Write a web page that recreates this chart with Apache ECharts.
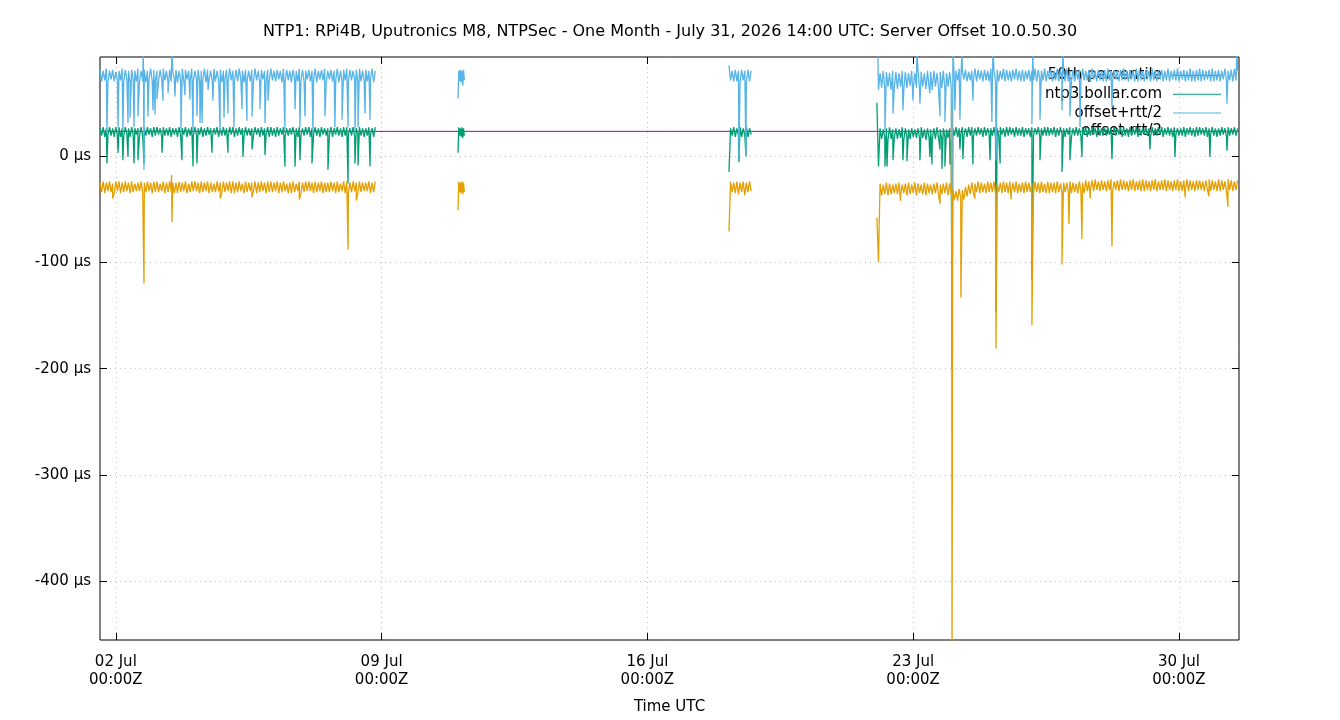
<!DOCTYPE html>
<html lang="en">
<head>
<meta charset="UTF-8">
<title>Server Offset 10.0.50.30</title>
<style>
    html, body { margin: 0; padding: 0; background: #fff; }
    #main { width: 1340px; height: 720px; }
</style>
</head>
<body>
<div id="main"></div>
<script src="https://cdn.jsdelivr.net/npm/echarts@6/dist/echarts.min.js"></script>
<script>
// x values are hours since 2026-07-01 00:00Z
var xMin = 14, xMax = 734;
var tickHours = [24, 192, 360, 528, 696];
var tickLabels = ['02 Jul\n00:00Z', '09 Jul\n00:00Z', '16 Jul\n00:00Z', '23 Jul\n00:00Z', '30 Jul\n00:00Z'];
var yTicks = [-400, -300, -200, -100, 0];
var p50 = 23.1;

// data comes in 4 runs, gaps between them
var segStart = [14, 240.3, 411.6, 505.1];
var segStep = [1, 0.5, 1, 1];

// ntp3.bollar.com (offset)
var offA = [26,19,27,18,26,20,27,19,26,18,27,19,
    27,18,26,19,27,20,26,18,27,19,26,20,
    26,19,27,18,26,19,27,20,26,18,27,19,
    27,20,26,18,27,19,26,19,27,18,26,20,
    26,18,27,19,26,20,27,18,26,19,27,19,
    27,19,26,20,27,18,26,19,27,20,26,18,
    26,20,27,18,26,19,27,19,26,18,27,20,
    27,18,26,19,27,20,26,18,27,19,26,19,
    26,19,27,20,26,18,27,19,26,20,27,18,
    27,19,26,18,27,19,26,20,27,18,26,19,
    26,20,27,19,26,18,27,19,26,19,27,20,
    27,18,26,20,27,19,26,18,27,20,26,19,
    26,19,27,18,26,20,27,19,26,18,27,19,
    27,20,26,19,27,18,26,20,27,19,26,18,
    26,19,27,20,26,18,27];
var offB = [3,27,19,26,18,27,17,26,19];
var offC = [-15,26,19,27,18,26,19,27,18,26,19,27,18,26,20];
var offD = [50,-10,26,16,25,17,26,15,27,16,25,17,
    26,16,25,17,27,15,26,17,25,16,26,18,
    25,17,26,16,27,17,25,15,26,17,25,16,
    26,16,27,17,25,16,26,18,25,17,26,16,
    26,19,27,18,26,20,27,19,26,18,27,19,
    27,18,26,19,27,20,26,18,27,19,26,20,
    26,19,27,18,26,19,27,20,26,18,27,19,
    27,20,26,18,27,19,26,19,27,18,26,20,
    26,18,27,19,26,20,27,18,26,19,27,19,
    27,19,26,20,27,18,26,19,27,20,26,18,
    26,20,27,18,26,19,27,19,26,18,27,20,
    27,18,26,19,27,20,26,18,27,19,26,19,
    26,19,27,20,26,18,27,19,26,20,27,18,
    27,19,26,18,27,19,26,20,27,18,26,19,
    26,20,27,19,26,18,27,19,26,19,27,20,
    27,18,26,20,27,19,26,18,27,20,26,19,
    26,19,27,18,26,20,27,19,26,18,27,19,
    27,20,26,19,27,18,26,20,27,19,26,18,
    26,19,27,20,26,18,27,19,26,20,27,19,
    26];
var offSpikes = [[18.4,-7],[25.4,3],[28.5,-4],[31.7,-1],[35.5,-7],[38,-4],[41.8,-7],[53.2,3],
    [65.8,-4],[72.8,-10],[75.3,-7],[84.8,3],[94.9,3],[104.4,-1],[110.1,6],[118.3,1],
    [130.9,-10],[137.3,-10],[140.4,-4],[148,-7],[158.1,-13],[170.8,-26],[175.2,-7],[177.1,-9],[184.7,-10],
    [417.9,-6],[422.3,0],
    [510.2,-10],[511.5,-10],[515.3,-4],[521.6,-4],[524.1,-5],[532.3,-4],[538.6,-1],[539.9,-8],[545,6],
    [546.2,-12],[548.1,-10],[551.3,-8],[552.6,-200],[557.6,6],[559.5,-3],[565.8,-8],
    [576.6,-4],[580.4,-147],[583,-7],[603.1,-116],[608.2,-4],[622.1,-15],[627.1,-4],
    [634.7,-1],[653.7,-3],[677.7,6],[693.5,-1],[715.6,-1],[726.4,5]];

// offset+rtt/2
var hiA = [81,70,80,71,82,69,80,72,81,70,79,71,
    80,71,82,70,81,72,80,69,81,71,80,70,
    82,71,80,70,81,69,80,72,82,70,81,71,
    80,70,81,72,82,71,80,69,81,70,80,72,
    81,69,80,71,82,70,81,72,80,71,82,70,
    80,72,81,70,80,71,82,69,81,72,80,70,
    82,70,80,71,81,69,80,72,81,70,82,71,
    80,71,81,70,82,72,80,69,81,71,80,70,
    81,70,82,71,80,69,81,72,80,70,81,71,
    82,71,80,70,81,72,80,69,82,70,81,71,
    80,69,81,72,80,70,82,71,81,70,80,72,
    81,70,80,71,82,69,80,72,81,71,82,70,
    80,72,81,70,80,71,82,69,80,70,81,71,
    82,70,81,71,80,72,81,69,82,70,80,71,
    81,70,80,72,82,69,80];
var hiB = [54,80,70,81,69,80,66,81,71];
var hiC = [85,71,80,70,81,70,80,69,81,71,80,70,81,70,80];
var hiD = [95,62,78,64,80,63,79,65,78,62,80,64,
    79,63,78,65,80,62,79,64,78,66,80,63,
    78,64,80,62,79,65,78,63,80,64,79,62,
    80,65,78,63,79,64,80,62,78,65,79,64,
    81,70,80,71,82,69,80,72,81,70,79,71,
    80,71,82,70,81,72,80,70,81,71,80,70,
    82,71,80,70,81,70,80,72,82,70,81,71,
    80,70,81,72,82,71,80,70,81,70,80,72,
    81,70,80,71,82,70,81,72,80,71,82,70,
    80,72,81,70,80,71,82,70,81,72,80,70,
    82,70,80,71,81,70,80,72,81,70,82,71,
    80,71,81,70,82,72,80,70,81,71,80,70,
    81,70,82,71,80,70,81,72,80,70,81,71,
    82,71,80,70,81,72,80,70,82,70,81,71,
    80,70,81,72,80,70,82,71,81,70,80,72,
    81,70,80,71,82,70,80,72,81,71,82,70,
    80,72,81,70,80,71,82,70,80,70,81,71,
    82,70,81,71,80,72,81,70,82,70,80,71,
    81,70,80,72,82,70,80,71,81,70,82,71,
    80];
var hiSpikes = [[18.4,22],[25.4,27],[28.5,24],[31.7,31],[33,36],[35.5,27],[38,37],[41.4,100],[41.8,-13],
    [44.3,37],[47.5,43],[48.8,39],[50,53],[53.8,52],[57,59],[59.5,100],[61.4,56],[65.2,24],[67.7,57],
    [70.9,53],[72.8,24],[75.3,37],[77.2,31],[78.5,31],[82.3,62],[85.4,52],[89.9,24],[92.4,36],[94.9,40],
    [98.7,27],[103.8,44],[106.9,33],[110.1,37],[115.1,44],
    [118.3,31],[120.2,52],[130.9,24],[137.3,44],[140.4,27],[143.6,37],[148.6,22],[156.2,37],
    [162.5,27],[167,34],[170.8,27],[175.2,24],[177.1,27],[181.5,40],[184.7,34],
    [417.9,-1],[422.3,-1],
    [505.6,100],[510.2,24],[515.3,40],[521.6,43],[527.9,52],[530.4,100],[532.3,49],[538.6,59],
    [545,37],[548.1,32],[552.6,-180],[553.2,100],[554.4,43],[557.6,34],[558.9,100],[565.8,52],
    [577.8,32],[578.5,100],[580.4,-4],[603.1,30],[603.6,100],[608.2,34],[622.1,43],[622.6,100],
    [627.1,37],[633.5,27],[653.7,46],[726.4,49],[732.7,100]];

// offset-rtt/2
var loA = [-25,-34,-24,-35,-25,-33,-24,-34,-26,-35,-24,-33,
    -24,-35,-25,-34,-24,-33,-25,-35,-24,-34,-26,-33,
    -25,-33,-24,-35,-25,-34,-24,-33,-25,-35,-24,-34,
    -24,-34,-26,-33,-24,-35,-25,-34,-24,-33,-25,-35,
    -25,-35,-24,-34,-25,-33,-24,-35,-26,-34,-24,-33,
    -24,-33,-25,-35,-24,-34,-25,-33,-24,-35,-25,-34,
    -26,-34,-24,-33,-25,-35,-24,-34,-25,-33,-24,-35,
    -24,-35,-25,-34,-24,-33,-26,-35,-24,-34,-25,-33,
    -25,-33,-24,-35,-25,-34,-24,-33,-25,-35,-24,-34,
    -24,-34,-25,-33,-24,-35,-25,-34,-24,-33,-26,-35,
    -25,-35,-24,-34,-26,-33,-24,-35,-25,-34,-24,-33,
    -24,-33,-25,-35,-24,-34,-25,-33,-24,-35,-25,-34,
    -25,-34,-24,-33,-25,-35,-24,-34,-26,-33,-24,-35,
    -24,-35,-25,-34,-24,-33,-25,-35,-24,-34,-25,-33,
    -25,-33,-24,-35,-25,-34,-24];
var loB = [-51,-24,-34,-25,-35,-24,-36,-25,-34];
var loC = [-71,-24,-34,-25,-35,-24,-36,-25,-34,-24,-37,-25,-34,-24,-33];
var loD = [-58,-100,-26,-37,-27,-36,-25,-37,-26,-36,-27,-35,
    -26,-36,-25,-37,-27,-35,-26,-37,-25,-36,-27,-35,
    -25,-37,-26,-35,-27,-36,-25,-37,-26,-35,-27,-36,
    -26,-35,-25,-37,-27,-36,-26,-35,-25,-37,-26,-36,
    -31,-41,-33,-42,-31,-40,-32,-41,-29,-38,-27,-36,
    -25,-35,-26,-34,-24,-35,-25,-34,-26,-35,-24,-34,
    -25,-34,-24,-35,-26,-34,-25,-35,-24,-34,-25,-35,
    -24,-35,-25,-34,-24,-35,-26,-34,-25,-35,-24,-34,
    -25,-34,-26,-35,-24,-34,-25,-35,-24,-34,-26,-35,
    -24,-35,-25,-34,-25,-35,-24,-34,-26,-35,-25,-34,
    -25,-34,-24,-35,-25,-34,-26,-35,-24,-34,-25,-35,
    -23,-33,-24,-32,-23,-33,-22,-32,-24,-33,-23,-32,
    -24,-33,-23,-32,-22,-33,-24,-32,-23,-33,-22,-32,
    -23,-32,-24,-33,-23,-32,-22,-33,-24,-32,-23,-33,
    -22,-33,-23,-32,-24,-33,-23,-32,-22,-33,-24,-32,
    -23,-32,-22,-33,-23,-32,-24,-33,-23,-32,-22,-33,
    -24,-33,-23,-32,-22,-33,-23,-32,-24,-33,-23,-32,
    -23,-32,-24,-33,-23,-32,-22,-33,-23,-32,-24,-33,
    -22,-33,-23,-32,-24,-33,-22,-32,-23,-33,-24,-32,
    -23];
var loSpikes = [[22,-40],[41.8,-120],[59.2,-18],[59.5,-62],[90,-40],[110,-39],[140,-41],[170.8,-88],[176,-42],
    [520,-42],[545,-45],[552.3,43],[552.6,-470],[558.2,-133],[567,-40],[580.4,-181],[590,-41],
    [603.1,-159],[622.1,-102],[626.5,-64],[634.7,-78],[640,-40],[653.7,-85],[700,-39],[715,-38],[727,-48]];

function build(segs, spikes) {
    var pts = [];
    segs.forEach(function (vals, s) {
        var seg = vals.map(function (v, i) { return [segStart[s] + i * segStep[s], v]; });
        var a = seg[0][0], b = seg[seg.length - 1][0];
        spikes.forEach(function (p) { if (p[0] > a && p[0] < b) seg.push(p); });
        seg.sort(function (p, q) { return p[0] - q[0]; });
        pts = pts.concat(seg);
        if (s < segs.length - 1) pts.push([b + 1, '-']);
    });
    return pts;
}

var font = 'DejaVu Sans';
var myChart = echarts.init(document.getElementById('main'));
var option = {
    animation: false,
    backgroundColor: '#fff',
    textStyle: { fontFamily: font },
    title: {
        text: 'NTP1: RPi4B, Uputronics M8, NTPSec - One Month - July 31, 2026 14:00 UTC: Server Offset 10.0.50.30',
        left: 'center',
        top: 19,
        textStyle: { fontFamily: font, fontSize: 16, fontWeight: 'normal', color: '#000' }
    },
    legend: {
        orient: 'vertical',
        right: 114,
        top: 63,
        align: 'right',
        z: 1,
        icon: 'rect',
        itemWidth: 48,
        itemHeight: 1,
        itemGap: 3.7,
        textStyle: { fontFamily: font, fontSize: 15, color: '#000', padding: [0, 6, 0, 0] },
        data: ['50th percentile', 'ntp3.bollar.com', 'offset+rtt/2', 'offset-rtt/2']
    },
    grid: { left: 100, right: 101, top: 57, bottom: 79, show: true, borderColor: '#000', borderWidth: 1 },
    xAxis: [{
        type: 'value',
        min: xMin,
        max: xMax,
        name: 'Time UTC',
        nameLocation: 'middle',
        nameGap: 60,
        nameTextStyle: { fontFamily: font, fontSize: 15, color: '#000' },
        axisLine: { show: false, onZero: false },
        axisTick: { inside: true, length: 7, customValues: tickHours, lineStyle: { color: '#000' } },
        axisLabel: {
            customValues: tickHours,
            margin: 13,
            lineHeight: 18,
            fontFamily: font, fontSize: 15, color: '#000',
            formatter: function (v) { return tickLabels[tickHours.indexOf(v)]; }
        },
        splitLine: { show: true, lineStyle: { color: '#c0c0c0', type: [1, 4], width: 1 } }
    }, {
        type: 'value',
        position: 'top',
        min: xMin,
        max: xMax,
        axisLine: { show: false, onZero: false },
        axisTick: { inside: true, length: 7, customValues: tickHours, lineStyle: { color: '#000' } },
        axisLabel: { show: false },
        splitLine: { show: false }
    }],
    yAxis: [{
        type: 'value',
        min: -455,
        max: 93,
        axisLine: { show: false, onZero: false },
        axisTick: { inside: true, length: 7, customValues: yTicks, lineStyle: { color: '#000' } },
        axisLabel: {
            customValues: yTicks,
            margin: 9,
            fontFamily: font, fontSize: 15, color: '#000',
            formatter: function (v) { return v + ' µs'; }
        },
        splitLine: { show: true, lineStyle: { color: '#c0c0c0', type: [1, 4], width: 1 } }
    }, {
        type: 'value',
        position: 'right',
        min: -455,
        max: 93,
        axisLine: { show: false, onZero: false },
        axisTick: { inside: true, length: 7, customValues: yTicks, lineStyle: { color: '#000' } },
        axisLabel: { show: false },
        splitLine: { show: false }
    }],
    series: [{
        name: '50th percentile',
        type: 'line',
        symbol: 'none',
        color: '#9400d3',
        lineStyle: { width: 1 },
        data: [[xMin, p50], [xMax, p50]]
    }, {
        name: 'ntp3.bollar.com',
        type: 'line',
        symbol: 'none',
        color: '#009e73',
        lineStyle: { width: 1.3 },
        data: build([offA, offB, offC, offD], offSpikes)
    }, {
        name: 'offset+rtt/2',
        type: 'line',
        symbol: 'none',
        color: '#56b4e9',
        lineStyle: { width: 1.3 },
        data: build([hiA, hiB, hiC, hiD], hiSpikes)
    }, {
        name: 'offset-rtt/2',
        type: 'line',
        symbol: 'none',
        color: '#e69f00',
        lineStyle: { width: 1.3 },
        data: build([loA, loB, loC, loD], loSpikes)
    }]
};
myChart.setOption(option);
</script>
</body>
</html>
